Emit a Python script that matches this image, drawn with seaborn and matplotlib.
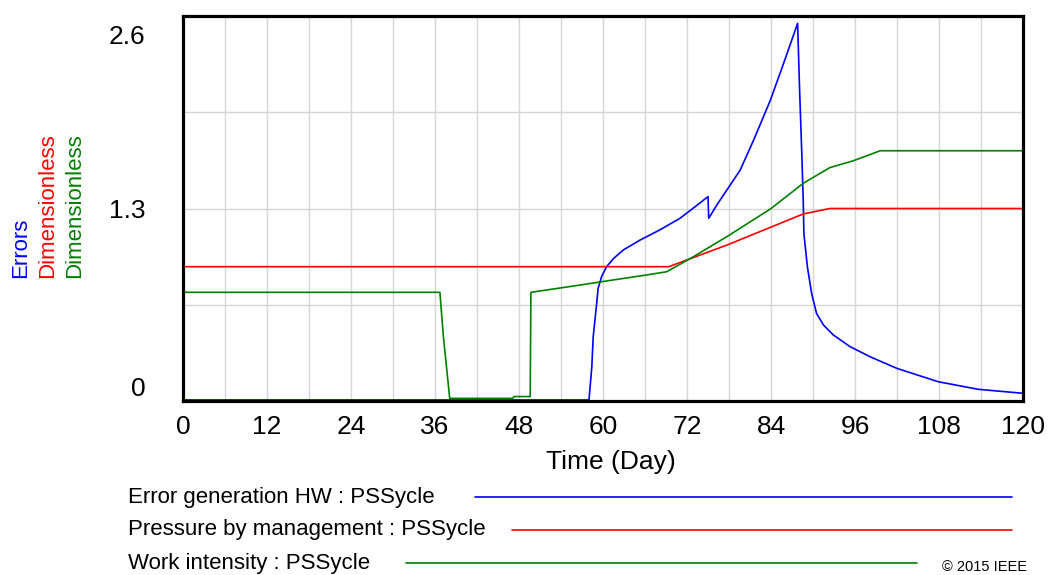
import matplotlib
matplotlib.use("Agg")
import matplotlib.pyplot as plt
from matplotlib.lines import Line2D
from matplotlib.transforms import ScaledTranslation
import numpy as np
import pandas as pd
import seaborn as sns

# Simulation output (day, value) for the three PSSycle variables
errors_day = [0, 58.0, 58.4, 58.6, 59.1, 59.3, 59.8, 60.5, 61.5, 62.9, 65.3, 68.1,
              71.0, 73.1, 75.0, 75.1, 76.4, 77.7, 79.6, 81.5, 83.9, 85.8, 87.8,
              88.1, 88.4, 88.6, 88.7, 89.2, 89.8, 90.5, 91.5, 92.9, 95.3, 98.1,
              102.0, 107.9, 113.6, 120]
errors_val = [0.007, 0.007, 0.23, 0.434, 0.66, 0.76, 0.84, 0.906, 0.962, 1.02, 1.087, 1.155,
              1.234, 1.31, 1.38, 1.234, 1.334, 1.425, 1.56, 1.76, 2.03, 2.28, 2.55,
              2.08, 1.67, 1.36, 1.13, 0.906, 0.727, 0.592, 0.513, 0.446, 0.367, 0.30,
              0.22, 0.13, 0.079, 0.052]

pressure_day = [0, 69.4, 77.7, 88.6, 92.4, 120]
pressure_val = [0.907, 0.907, 1.053, 1.263, 1.30, 1.30]

intensity_day = [0, 36.7, 37.2, 38.1, 47.1, 47.3, 49.6, 49.7, 56.7, 61.4, 66.2, 69.1,
                 72.9, 77.7, 83.9, 88.6, 92.4, 95.8, 99.6, 120]
intensity_val = [0.734, 0.734, 0.434, 0.018, 0.018, 0.03, 0.03, 0.734, 0.783, 0.817, 0.851, 0.873,
                 0.974, 1.11, 1.296, 1.47, 1.576, 1.623, 1.69, 1.69]

series_names = ["Error generation HW : PSSycle",
                "Pressure by management : PSSycle",
                "Work intensity : PSSycle"]
series_colors = ["#0000ff", "#ff0000", "#008000"]
unit_labels = ["Errors", "Dimensionless", "Dimensionless"]

x_ticks = list(range(0, 121, 12))
y_ticks = [0, 1.3, 2.6]

sns.set_theme(style="white")
plt.rcParams["font.family"] = ["Liberation Sans", "DejaVu Sans"]

W, H = 1049, 575
fig = plt.figure(figsize=(W / 100, H / 100), dpi=100)
ax = fig.add_axes([183 / W, 1 - 401 / H, 840 / W, 385 / H])

frames = [
    pd.DataFrame({"day": errors_day, "value": errors_val}),
    pd.DataFrame({"day": pressure_day, "value": pressure_val}),
    pd.DataFrame({"day": intensity_day, "value": intensity_val}),
]
for df, color in zip(frames, series_colors):
    sns.lineplot(data=df, x="day", y="value", color=color, lw=1.2,
                 estimator=None, sort=False, ax=ax)

ax.set_xlim(0, 120)
ax.set_ylim(0, 2.6)
ax.set_xticks(x_ticks)
ax.set_xticks(np.arange(6, 120, 12), minor=True)
ax.set_yticks(y_ticks)
ax.set_yticklabels(["0", "1.3", "2.6"])
ax.set_yticks([0.65, 1.95], minor=True)
ax.grid(which="both", color="#d6d6d6", lw=1.0)
ax.set_axisbelow(True)
for sp in ax.spines.values():
    sp.set_visible(True)
    sp.set_color("black")
    sp.set_linewidth(2.3)

ax.tick_params(axis="both", which="both", length=0, labelsize=19, colors="black")
ax.tick_params(axis="x", pad=10)
ax.tick_params(axis="y", pad=27)

ax.set_ylabel("")
ax.set_xlabel("Time (Day)", fontsize=19, labelpad=8, color="black")
ax.xaxis.label.set_x((611 - 183) / 840)

# Shift the end labels of the y axis inward
ylabels = ax.get_yticklabels()
ylabels[0].set_transform(ylabels[0].get_transform() + ScaledTranslation(0, 14 / 100, fig.dpi_scale_trans))
ylabels[-1].set_transform(ylabels[-1].get_transform() + ScaledTranslation(0, -19 / 100, fig.dpi_scale_trans))

# Stacked unit labels on the left
for xpix, txt, color in zip([21, 48, 75], unit_labels, series_colors):
    fig.text(xpix / W, 1 - 278 / H, txt, rotation=90, ha="center", va="bottom",
             fontsize=16, color=color)

# Legend rows: name followed by a line sample
legend_y = [497, 530, 563]
legend_x0 = [475, 512, 406]
legend_x1 = [1012, 1012, 917]
for name, color, yp, x0, x1 in zip(series_names, series_colors, legend_y, legend_x0, legend_x1):
    fig.text(128 / W, 1 - yp / H, name, ha="left", va="center", fontsize=16, color="black")
    fig.add_artist(Line2D([x0 / W, x1 / W], [1 - yp / H, 1 - yp / H],
                          color=color, lw=1.2, transform=fig.transFigure))

fig.text(942 / W, 1 - 567 / H, "\u00a9 2015 IEEE", ha="left", va="center", fontsize=10.5,
         color="black")

fig.savefig("out.png", dpi=100)
